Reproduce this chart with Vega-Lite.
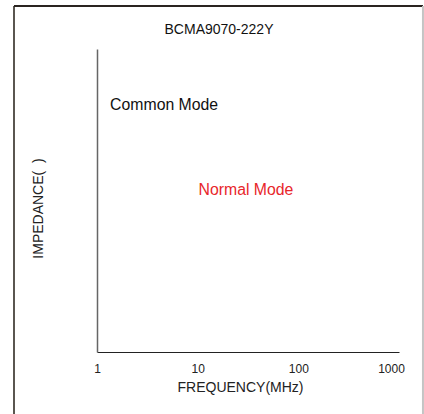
{
  "$schema": "https://vega.github.io/schema/vega-lite/v6.json",
  "autosize": "none",
  "width": 302,
  "height": 303,
  "padding": {"left": 97, "top": 49, "right": 25, "bottom": 62},
  "background": "white",
  "config": {
    "view": {"stroke": null},
    "font": "Liberation Sans"
  },
  "title": {
    "text": "BCMA9070-222Y",
    "fontSize": 14,
    "fontWeight": "normal",
    "font": "Liberation Sans",
    "color": "#111",
    "dx": -29,
    "offset": 0,
    "dy": 32
  },
  "datasets": {
    "labels": [
      {"label": "Common Mode", "freq": 1.35, "imp": 81.5},
      {"label": "Normal Mode", "freq": 10.2, "imp": 53.5}
    ],
    "border": [
      {"edge": "left", "x": 0.1498, "x2": 0.1498, "y": 114.2, "y2": -25},
      {"edge": "top", "x": 0.1498, "x2": 1730, "y": 114.2, "y2": 114.2},
      {"edge": "right", "x": 1730, "x2": 1730, "y": 114.2, "y2": -25}
    ]
  },
  "encoding": {
    "x": {
      "field": "freq",
      "type": "quantitative",
      "scale": {"type": "log", "domain": [1, 1000]},
      "axis": {
        "values": [1, 10, 100, 1000],
        "format": "d",
        "grid": false,
        "ticks": false,
        "domainColor": "#222",
        "domainWidth": 1,
        "labelFont": "Liberation Sans",
        "labelFontSize": 12,
        "labelColor": "#222",
        "labelPadding": 11,
        "labelFlush": false,
        "labelOffset": {"condition": {"test": "datum.value == 1000", "value": -8}, "value": 0},
        "title": "FREQUENCY(MHz)",
        "titleFont": "Liberation Sans",
        "titleFontSize": 14,
        "titleFontWeight": "normal",
        "titleColor": "#222",
        "titlePadding": 6,
        "titleX": 143
      }
    },
    "y": {
      "field": "imp",
      "type": "quantitative",
      "scale": {"domain": [0, 100], "nice": false},
      "axis": {
        "labels": false,
        "ticks": false,
        "grid": false,
        "domainColor": "#666",
        "domainWidth": 1.5,
        "title": "IMPEDANCE(\u00a0\u00a0)",
        "titleFont": "Liberation Sans",
        "titleFontSize": 14,
        "titleFontWeight": "normal",
        "titleColor": "#222",
        "titlePadding": 52,
        "titleY": 159
      }
    }
  },
  "layer": [
    {
      "data": {"name": "labels"},
      "mark": {"type": "text", "fontSize": 15.8, "font": "Liberation Sans", "align": "left", "baseline": "middle"},
      "encoding": {
        "text": {"field": "label"},
        "color": {
          "field": "label",
          "type": "nominal",
          "scale": {"domain": ["Common Mode", "Normal Mode"], "range": ["#111111", "#e8262b"]},
          "legend": null
        }
      }
    },
    {
      "data": {"name": "border"},
      "mark": {"type": "rule"},
      "encoding": {
        "x": {"field": "x", "type": "quantitative"},
        "x2": {"field": "x2"},
        "y": {"field": "y", "type": "quantitative"},
        "y2": {"field": "y2"},
        "stroke": {
          "field": "edge",
          "type": "nominal",
          "scale": {"domain": ["left", "top", "right"], "range": ["#5a5650", "#2a2420", "#c4c4c4"]},
          "legend": null
        },
        "strokeWidth": {
          "field": "edge",
          "type": "nominal",
          "scale": {"domain": ["left", "top", "right"], "range": [2, 2, 1.5]},
          "legend": null
        }
      }
    }
  ]
}
